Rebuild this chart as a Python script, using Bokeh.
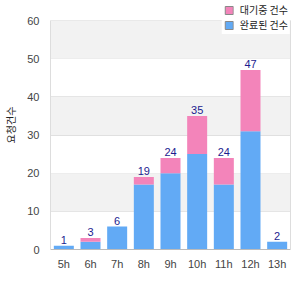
from bokeh.plotting import figure
from bokeh.models import (ColumnDataSource, FixedTicker, Grid, Legend, LegendItem, Range1d,
                          FactorRange, LinearAxis)
from bokeh.core.properties import value
from bokeh.embed import file_html
from bokeh.resources import INLINE

hours = ["5h", "6h", "7h", "8h", "9h", "10h", "11h", "12h", "13h"]
done = [1, 2, 6, 17, 20, 25, 17, 31, 2]
waiting = [0, 1, 0, 2, 4, 10, 7, 16, 0]
totals = [d + w for d, w in zip(done, waiting)]
y_ticks = [0, 10, 20, 30, 40, 50, 60]
band_ticks = [10, 20, 30, 40, 50, 60]
series_names = ["완료된 건수", "대기중 건수"]
y_title = "요청건수"

BLUE = "#62aaf5"
PINK = "#f384ba"
LATIN = "Liberation Sans"
CJK = "Noto Sans CJK KR"

# frame spans the full height above the x axis (so the legend is not clipped);
# the value axis itself is bounded to 0..60
FRAME_H = 249
PLOT_H = 229
y_max = 60 * FRAME_H / PLOT_H

src = ColumnDataSource(dict(hours=hours, done=done, waiting=waiting, total=totals))

p = figure(width=300, height=300, x_range=FactorRange(*hours), y_range=Range1d(0, y_max),
           output_backend="svg", toolbar_location=None,
           min_border_left=50, min_border_right=10, min_border_top=0, min_border_bottom=51)
p.background_fill_color = "white"
p.border_fill_color = "white"
p.outline_line_color = None

rs = p.vbar_stack(["done", "waiting"], x="hours", width=0.75, source=src,
                  color=[BLUE, PINK], line_color=None)

p.text(x="hours", y="total", text="total", source=src, text_align="center",
       text_baseline="bottom", y_offset=-2, text_color="#1c1c8f",
       text_font=value(LATIN), text_font_size="11px")

# grid + bands
p.xgrid.grid_line_color = None
p.ygrid.ticker = FixedTicker(ticks=y_ticks)
p.ygrid.grid_line_color = "#e0e0e0"
band = Grid(dimension=1, ticker=FixedTicker(ticks=band_ticks), grid_line_alpha=0,
            band_fill_color="#f2f2f2", band_fill_alpha=1.0, level="underlay")
p.add_layout(band)

# left axis
p.yaxis.ticker = FixedTicker(ticks=y_ticks)
p.yaxis.bounds = (0, 60)
p.yaxis.axis_line_color = "#dddddd"
p.yaxis.major_tick_line_color = None
p.yaxis.minor_tick_line_color = None
p.yaxis.major_tick_out = 0
p.yaxis.minor_tick_out = 0
p.yaxis.major_label_standoff = 11
p.yaxis.major_label_text_font = LATIN
p.yaxis.major_label_text_font_size = "11px"
p.yaxis.major_label_text_color = "#444444"
p.yaxis.axis_label = y_title
p.yaxis.axis_label_text_font = CJK
p.yaxis.axis_label_text_font_style = "normal"
p.yaxis.axis_label_text_font_size = "10px"
p.yaxis.axis_label_text_color = "#222222"
p.yaxis.axis_label_standoff = 6

# right border line as a bare axis
right = LinearAxis(bounds=(0, 60), ticker=FixedTicker(ticks=[]), axis_line_color="#dddddd",
                   major_tick_line_color=None, minor_tick_line_color=None,
                   major_tick_out=0, minor_tick_out=0, major_label_text_font_size="0px",
                   major_label_standoff=0)
p.add_layout(right, "right")

# bottom axis
p.xaxis.axis_line_color = "#bbbbbb"
p.xaxis.major_tick_line_color = None
p.xaxis.minor_tick_line_color = None
p.xaxis.major_tick_out = 0
p.xaxis.minor_tick_out = 0
p.xaxis.major_label_standoff = 8
p.xaxis.major_label_text_font = LATIN
p.xaxis.major_label_text_font_size = "11px"
p.xaxis.major_label_text_color = "#444444"

# legend-only swatches with grey outline (no drawable bars)
nan_src = ColumnDataSource(dict(x=[hours[0]], top=[float("nan")]))
lg_pink = p.vbar(x="x", top="top", width=0.5, source=nan_src, fill_color=PINK, line_color="#888888")
lg_blue = p.vbar(x="x", top="top", width=0.5, source=nan_src, fill_color=BLUE, line_color="#888888")

legend = Legend(items=[LegendItem(label=series_names[1], renderers=[lg_pink]),
                       LegendItem(label=series_names[0], renderers=[lg_blue])],
                location="top_right", orientation="vertical",
                glyph_width=10, glyph_height=10, label_height=10, spacing=0,
                padding=2, margin=0, label_standoff=6,
                label_text_font=CJK, label_text_font_size="10px", label_text_color="#222222",
                border_line_alpha=0, background_fill_color="white", background_fill_alpha=1.0)
p.add_layout(legend, "center")

open("out.html", "w").write(file_html(p, INLINE))
